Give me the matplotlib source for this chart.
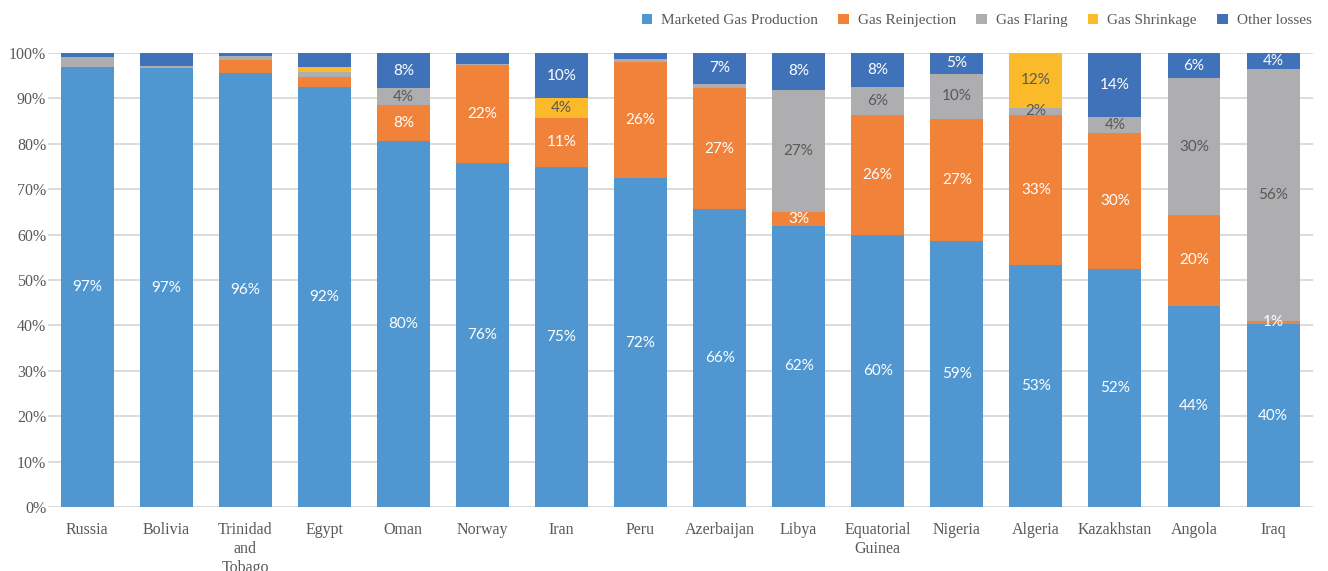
import matplotlib
matplotlib.use("Agg")
import matplotlib.pyplot as plt
import numpy as np
from matplotlib.ticker import PercentFormatter

countries = ["Russia", "Bolivia", "Trinidad\nand\nTobago", "Egypt", "Oman", "Norway", "Iran", "Peru",
             "Azerbaijan", "Libya", "Equatorial\nGuinea", "Nigeria", "Algeria", "Kazakhstan", "Angola", "Iraq"]

marketed   = [96.9, 96.6, 95.7, 92.5, 80.6, 75.7, 75.0, 72.4, 65.6, 61.9, 59.9, 58.6, 53.2, 52.4, 44.3, 40.3]
reinjection= [0.0,  0.0,  2.8,  2.3,  7.9,  21.6, 10.8, 25.6, 26.7, 3.1,  26.4, 26.9, 33.2, 30.0, 20.0, 0.7]
flaring    = [2.2,  0.5,  0.9,  1.0,  3.7,  0.3,  0.0,  0.7,  0.9,  26.9, 6.2,  9.9,  1.6,  3.6,  30.1, 55.5]
shrinkage  = [0.0,  0.0,  0.0,  1.1,  0.0,  0.0,  4.2,  0.0,  0.0,  0.0,  0.0,  0.0,  12.0, 0.0,  0.0,  0.0]
other      = [0.9,  2.9,  0.6,  3.1,  7.8,  2.4,  10.0, 1.3,  6.8,  8.1,  7.5,  4.6,  0.0,  14.0, 5.6,  3.5]

# data labels shown in the chart ('' = no label)
lab_marketed    = ["97%", "97%", "96%", "92%", "80%", "76%", "75%", "72%", "66%", "62%", "60%", "59%", "53%", "52%", "44%", "40%"]
lab_reinjection = ["", "", "", "", "8%", "22%", "11%", "26%", "27%", "3%", "26%", "27%", "33%", "30%", "20%", "1%"]
lab_flaring     = ["", "", "", "", "4%", "", "", "", "", "27%", "6%", "10%", "2%", "4%", "30%", "56%"]
lab_shrinkage   = ["", "", "", "", "", "", "4%", "", "", "", "", "", "12%", "", "", ""]
lab_other       = ["", "", "", "", "8%", "", "10%", "", "7%", "8%", "8%", "5%", "", "14%", "6%", "4%"]

series_names = ["Marketed Gas Production", "Gas Reinjection", "Gas Flaring", "Gas Shrinkage", "Other losses"]
colors = ["#5097D1", "#F0823A", "#AEAEB1", "#FBBA2A", "#3F72B9"]
label_colors = ["white", "white", "#595959", "#595959", "white"]

series = [marketed, reinjection, flaring, shrinkage, other]
labels = [lab_marketed, lab_reinjection, lab_flaring, lab_shrinkage, lab_other]

fig = plt.figure(figsize=(13.28, 5.71), dpi=100)
ax = fig.add_axes([0.0358, 0.1121, 0.9526, 0.795])

x = np.arange(len(countries))
bottom = np.zeros(len(countries))
handles = []
for vals, name, col, labs, lc in zip(series, series_names, colors, labels, label_colors):
    vals = np.array(vals)
    b = ax.bar(x, vals, 0.67, bottom=bottom, color=col, label=name, zorder=3)
    handles.append(b)
    for i, (v, t) in enumerate(zip(vals, labs)):
        if t:
            ax.text(x[i], bottom[i] + v / 2, t, ha="center", va="center", color=lc,
                    fontsize=11, family="Lato", zorder=4)
    bottom += vals

ax.set_xlim(-0.5, len(countries) - 0.5)
ax.set_ylim(0, 100)
ax.set_yticks(np.arange(0, 101, 10))
ax.yaxis.set_major_formatter(PercentFormatter(100, decimals=0))
ax.grid(axis="y", color="#D9D9D9", linewidth=1.3, zorder=0)
ax.set_axisbelow(True)
for s in ax.spines.values():
    s.set_visible(False)
ax.tick_params(axis="both", length=0, colors="#595959", labelsize=11.5)
ax.tick_params(axis="y", pad=1)
ax.tick_params(axis="x", pad=11)
ax.set_xticks(x)
ax.set_xticklabels(countries, family="Liberation Serif", va="top", linespacing=1.22)
for t in ax.get_yticklabels():
    t.set_family("Liberation Serif")

leg = fig.legend(handles=handles, loc="upper right", bbox_to_anchor=(0.998, 1.0), ncol=5,
                 frameon=False, handlelength=0.7, handleheight=0.7, handletextpad=0.6,
                 columnspacing=1.3, prop={"family": "Liberation Serif", "size": 11})
for t in leg.get_texts():
    t.set_color("#595959")

fig.savefig("out.png", dpi=100)
